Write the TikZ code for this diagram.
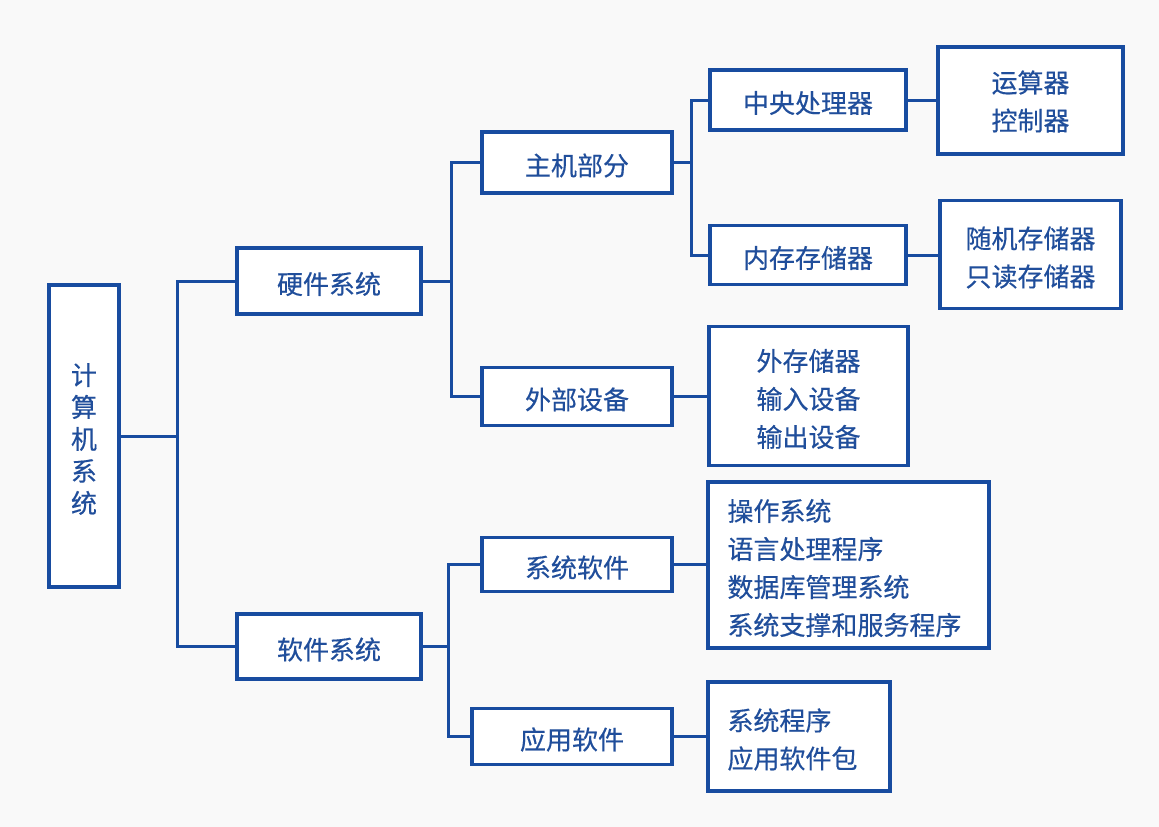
\documentclass[tikz,border=0pt]{standalone}
\usepackage{fontspec}
\setmainfont{Noto Sans CJK SC}[FakeBold=0.4]
\definecolor{lineblue}{RGB}{24,76,160}
\definecolor{textblue}{RGB}{32,78,155}
\definecolor{bg}{RGB}{249,249,249}
\tikzset{
  box/.style={draw=lineblue, line width=3.5pt, fill=white, inner sep=0pt},
  txt/.style={text=textblue, font=\fontsize{26}{38}\selectfont, align=center,
    inner sep=0pt, yshift=-3pt},
  ltxt/.style={txt, align=left, anchor=west, xshift=21pt},
  conn/.style={draw=lineblue, line width=3pt}
}
\begin{document}
\begin{tikzpicture}[x=1pt,y=-1pt]
\fill[bg] (0,0) rectangle (1159,827);
\useasboundingbox (0,0) rectangle (1159,827);

% level 0
\node[box, minimum width=70, minimum height=302,
  label={[txt, font=\fontsize{26}{32}\selectfont]center:计\\算\\机\\系\\统}] (root) at (84,436) {};

% level 1
\node[box, minimum width=184, minimum height=66, label={[txt]center:硬件系统}] (hw) at (329,281) {};
\node[box, minimum width=184, minimum height=65, label={[txt]center:软件系统}] (sw) at (329,646.5) {};

% level 2
\node[box, minimum width=190, minimum height=61, label={[txt]center:主机部分}] (zj) at (577,162.5) {};
\node[box, minimum width=190, minimum height=58, label={[txt]center:外部设备}] (wb) at (577,396.5) {};
\node[box, minimum width=190, minimum height=54, label={[txt]center:系统软件}] (xt) at (577,564.5) {};
\node[box, minimum width=200, minimum height=56, label={[txt]center:应用软件}] (yy) at (572,736.5) {};

% level 3
\node[box, minimum width=196, minimum height=60, label={[txt]center:中央处理器}] (cpu) at (808,100) {};
\node[box, minimum width=196, minimum height=59, label={[txt]center:内存存储器}] (nc) at (808,255) {};
\node[box, minimum width=199, minimum height=139,
  label={[txt]center:外存储器\\输入设备\\输出设备}] (ext) at (808.5,396) {};
\node[box, minimum width=281, minimum height=166,
  label={[ltxt]west:操作系统\\语言处理程序\\数据库管理系统\\系统支撑和服务程序}] (sysd) at (848.5,565) {};
\node[box, minimum width=182, minimum height=109,
  label={[ltxt]west:系统程序\\应用软件包}] (appd) at (799,736.5) {};

% level 4
\node[box, minimum width=185, minimum height=107,
  label={[txt, yshift=2pt]center:运算器\\控制器}] (ys) at (1030.5,100.5) {};
\node[box, minimum width=181, minimum height=108,
  label={[txt]center:随机存储器\\只读存储器}] (sj) at (1030.5,254.5) {};

% junction coordinates
\coordinate (j0) at (177,436);
\coordinate (j1) at (451,281);
\coordinate (j2) at (691,162.5);
\coordinate (j3) at (448,646.5);

% connectors
\draw[conn] (root.east) -- (j0);
\draw[conn] (hw.west) -| (j0) |- (sw.west);
\draw[conn] (hw.east) -- (j1);
\draw[conn] (zj.west) -| (j1) |- (wb.west);
\draw[conn] (zj.east) -- (j2);
\draw[conn] (cpu.west) -| (j2) |- (nc.west);
\draw[conn] (sw.east) -- (j3);
\draw[conn] (xt.west) -| (j3) |- (yy.west);
\draw[conn] (cpu.east) -- (cpu.east -| ys.west);
\draw[conn] (nc.east) -- (nc.east -| sj.west);
\draw[conn] (wb.east) -- (wb.east -| ext.west);
\draw[conn] (xt.east) -- (xt.east -| sysd.west);
\draw[conn] (yy.east) -- (yy.east -| appd.west);
\end{tikzpicture}
\end{document}
